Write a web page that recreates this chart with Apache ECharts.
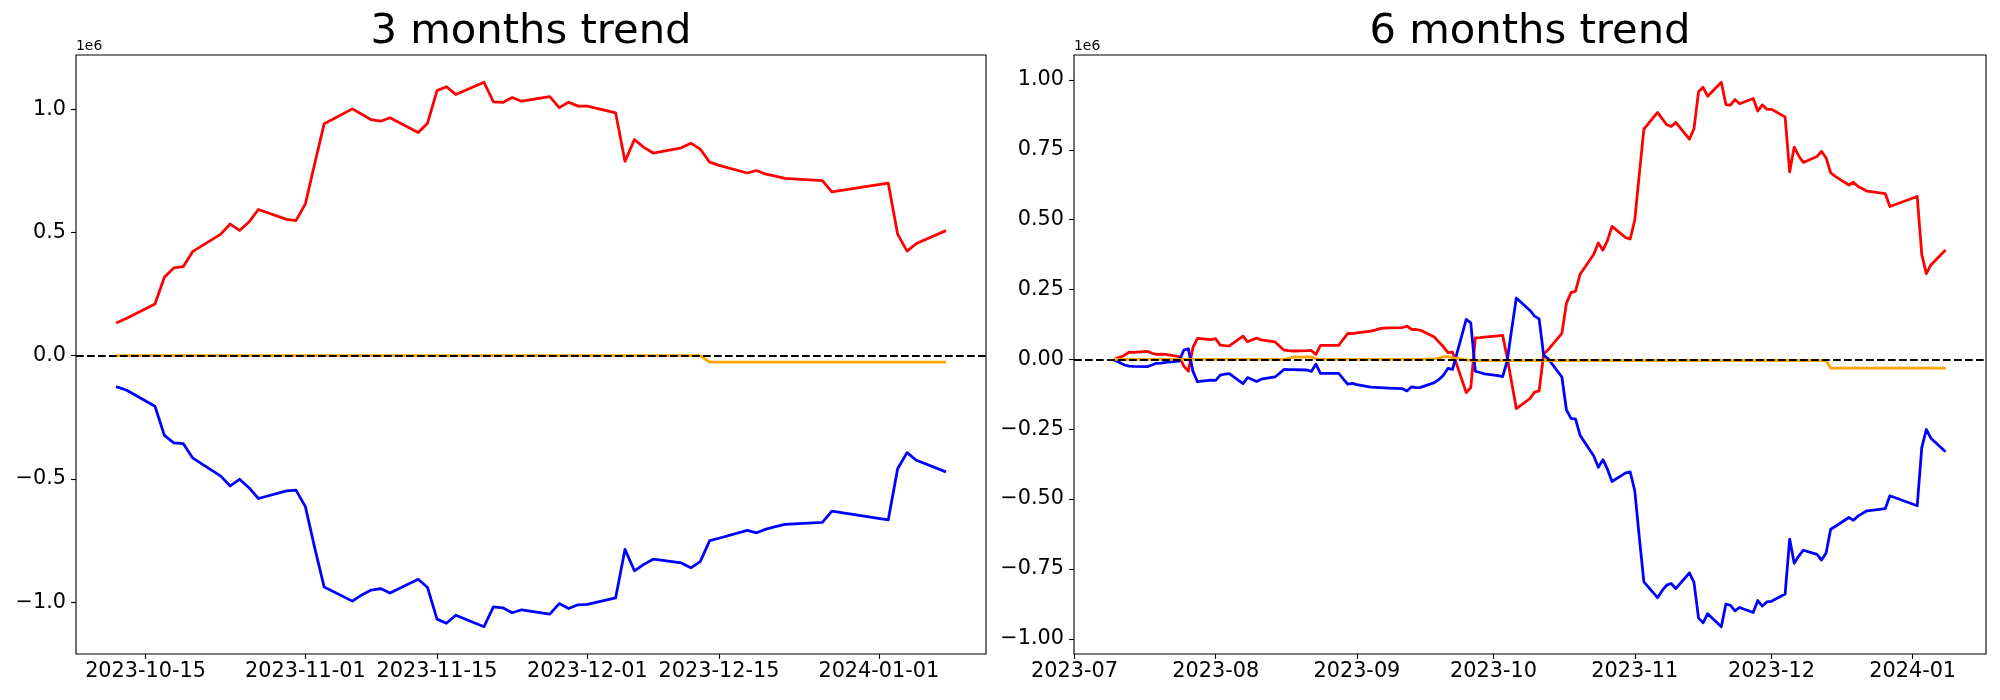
<!DOCTYPE html>
<html><head><meta charset="utf-8">
<script src="https://cdn.jsdelivr.net/npm/echarts@6/dist/echarts.min.js"></script>
<style>html,body{margin:0;padding:0;background:#fff}#c{width:2000px;height:700px}</style>
</head><body><div id="c"></div>
<script>
// ---------- data ----------
const leftDates = [
 '2023-10-12','2023-10-13','2023-10-16','2023-10-17','2023-10-18','2023-10-19','2023-10-20','2023-10-23','2023-10-24','2023-10-25','2023-10-26','2023-10-27','2023-10-30','2023-10-31',
 '2023-11-01','2023-11-02','2023-11-03','2023-11-06','2023-11-07','2023-11-08','2023-11-09','2023-11-10','2023-11-13','2023-11-14','2023-11-15','2023-11-16','2023-11-17','2023-11-20','2023-11-21','2023-11-22','2023-11-23','2023-11-24','2023-11-27','2023-11-28','2023-11-29','2023-11-30',
 '2023-12-01','2023-12-04','2023-12-05','2023-12-06','2023-12-07','2023-12-08','2023-12-11','2023-12-12','2023-12-13','2023-12-14','2023-12-15','2023-12-18','2023-12-19','2023-12-20','2023-12-21','2023-12-22','2023-12-26','2023-12-27',
 '2024-01-02','2024-01-03','2024-01-04','2024-01-05','2024-01-08'];
const leftRed = [
 135000,152000,210000,318000,356000,361000,422000,493000,534000,508000,542000,593000,553000,548000,
 616000,780000,941000,1001000,979000,957000,951000,965000,905000,943000,1075000,1091000,1059000,1109000,1029000,1027000,1047000,1032000,1051000,1006000,1028000,1012000,
 1012000,985000,788000,877000,845000,822000,843000,862000,838000,785000,772000,741000,751000,736000,728000,719000,710000,664000,
 700000,493000,424000,455000,505000];
const leftBlue = [
 -127000,-140000,-205000,-323000,-353000,-356000,-414000,-488000,-528000,-501000,-535000,-579000,-548000,-545000,
 -612000,-780000,-938000,-995000,-970000,-950000,-944000,-962000,-906000,-940000,-1068000,-1085000,-1052000,-1099000,-1018000,-1022000,-1042000,-1030000,-1048000,-1005000,-1025000,-1010000,
 -1008000,-982000,-785000,-872000,-846000,-825000,-840000,-860000,-835000,-750000,-740000,-708000,-718000,-703000,-693000,-684000,-676000,-630000,
 -666000,-458000,-393000,-424000,-469000];
const leftOrange = [
 0,0,0,0,0,0,0,0,0,0,0,0,0,0,
 0,0,0,0,0,0,0,0,0,0,0,0,0,0,0,0,0,0,0,0,0,0,
 0,0,0,0,0,0,0,0,0,-25500,-25500,-25500,-25500,-25500,-25500,-25500,-25500,-25500,
 -25500,-25500,-25500,-25500,-25500];

const rightDates = [
 '2023-07-10','2023-07-11','2023-07-12','2023-07-13','2023-07-14','2023-07-17','2023-07-18','2023-07-19','2023-07-20','2023-07-21','2023-07-24','2023-07-25','2023-07-26','2023-07-27','2023-07-28','2023-07-31',
 '2023-08-01','2023-08-02','2023-08-03','2023-08-04','2023-08-07','2023-08-08','2023-08-09','2023-08-10','2023-08-11','2023-08-14','2023-08-15','2023-08-16','2023-08-17','2023-08-18','2023-08-21','2023-08-22','2023-08-23','2023-08-24','2023-08-25','2023-08-28','2023-08-29','2023-08-30','2023-08-31',
 '2023-09-01','2023-09-04','2023-09-05','2023-09-06','2023-09-07','2023-09-08','2023-09-11','2023-09-12','2023-09-13','2023-09-14','2023-09-15','2023-09-18','2023-09-19','2023-09-20','2023-09-21','2023-09-22','2023-09-25','2023-09-26','2023-09-27','2023-09-28','2023-09-29',
 '2023-10-02','2023-10-03','2023-10-04','2023-10-05','2023-10-06','2023-10-09','2023-10-10','2023-10-11',
 '2023-10-12','2023-10-13','2023-10-16','2023-10-17','2023-10-18','2023-10-19','2023-10-20','2023-10-23','2023-10-24','2023-10-25','2023-10-26','2023-10-27','2023-10-30','2023-10-31',
 '2023-11-01','2023-11-02','2023-11-03','2023-11-06','2023-11-07','2023-11-08','2023-11-09','2023-11-10','2023-11-13','2023-11-14','2023-11-15','2023-11-16','2023-11-17','2023-11-20','2023-11-21','2023-11-22','2023-11-23','2023-11-24','2023-11-27','2023-11-28','2023-11-29','2023-11-30',
 '2023-12-01','2023-12-04','2023-12-05','2023-12-06','2023-12-07','2023-12-08','2023-12-11','2023-12-12','2023-12-13','2023-12-14','2023-12-15','2023-12-18','2023-12-19','2023-12-20','2023-12-21','2023-12-22','2023-12-26','2023-12-27',
 '2024-01-02','2024-01-03','2024-01-04','2024-01-05','2024-01-08'];
const rightRed = [
 2000,8000,15000,26000,25000,29000,22000,18000,19000,18000,10000,-24000,-42000,42000,75000,71000,
 74000,51000,49000,48000,83000,63000,70000,76000,70000,63000,48000,33000,31000,30000,31000,32000,18000,50000,50000,50000,72000,93000,92000,
 95000,101000,105000,110000,112000,113000,114000,119000,107000,107000,104000,80000,62000,45000,24000,26000,-119000,-101000,77000,78000,80000,
 84000,86000,6000,-85000,-176000,-140000,-117000,-113000,
 18000,35000,93000,201000,239000,244000,305000,376000,417000,391000,425000,476000,436000,431000,
 499000,663000,824000,884000,862000,840000,834000,848000,788000,826000,958000,974000,942000,992000,912000,910000,930000,915000,934000,889000,911000,895000,
 895000,868000,671000,760000,728000,705000,726000,745000,721000,668000,655000,624000,634000,619000,611000,602000,593000,547000,
 583000,376000,307000,338000,388000];
const rightBlue = [
 -4000,-12000,-20000,-24000,-25000,-26000,-20000,-14000,-13000,-11000,-6000,33000,38000,-42000,-80000,-74000,
 -75000,-56000,-53000,-51000,-87000,-65000,-72000,-79000,-71000,-63000,-50000,-36000,-37000,-37000,-38000,-43000,-17000,-50000,-50000,-50000,-70000,-89000,-86000,
 -90000,-99000,-100000,-101000,-102000,-103000,-105000,-113000,-98000,-101000,-100000,-83000,-72000,-57000,-32000,-36000,143000,131000,-42000,-47000,-52000,
 -58000,-62000,-5000,110000,220000,175000,155000,145000,
 15000,2000,-63000,-181000,-211000,-214000,-272000,-346000,-386000,-359000,-393000,-437000,-406000,-403000,
 -470000,-638000,-796000,-853000,-828000,-808000,-802000,-820000,-764000,-798000,-926000,-943000,-910000,-957000,-876000,-880000,-900000,-888000,-906000,-863000,-883000,-868000,
 -866000,-840000,-643000,-730000,-704000,-683000,-698000,-718000,-693000,-608000,-598000,-566000,-576000,-561000,-551000,-542000,-534000,-488000,
 -524000,-316000,-251000,-282000,-327000];
const rightOrange = [
 0,0,0,0,0,0,0,0,0,0,0,0,0,0,0,0,
 0,0,0,0,0,0,0,0,0,0,0,0,4000,8000,9000,8000,2000,0,0,0,0,0,0,
 0,0,0,0,0,0,0,0,0,0,0,2000,5000,9000,10000,6000,-2000,-4000,-4000,-4000,-4000,
 -4000,-4000,-4000,-4000,-4000,-4000,-4000,-4000,
 -4000,-4000,-4000,-4000,-4000,-4000,-4000,-4000,-4000,-4000,-4000,-4000,-4000,-4000,
 -4000,-4000,-4000,-4000,-4000,-4000,-4000,-4000,-4000,-4000,-4000,-4000,-4000,-4000,-4000,-4000,-4000,-4000,-4000,-4000,-4000,-4000,
 -4000,-4000,-4000,-4000,-4000,-4000,-4000,-4000,-4000,-31000,-31000,-31000,-31000,-31000,-31000,-31000,-31000,-31000,
 -31000,-31000,-31000,-31000,-31000];

const leftXTicks = ['2023-10-15','2023-11-01','2023-11-15','2023-12-01','2023-12-15','2024-01-01'];
const rightXTicks = ['2023-07-01','2023-08-01','2023-09-01','2023-10-01','2023-11-01','2023-12-01','2024-01-01'];
const leftYTicks = [-1000000,-500000,0,500000,1000000];
const rightYTicks = [-1000000,-750000,-500000,-250000,0,250000,500000,750000,1000000];
const titles = ['3 months trend','6 months trend'];

// ---------- helpers ----------
const FONT = '"DejaVu Sans", sans-serif';
const TICKFS = 20.8;
function ts(s){ const p = s.split('-').map(Number); return Date.UTC(p[0], p[1]-1, p[2]); }
function zip(d, v){ return d.map((s,i)=>[ts(s), v[i]]); }
function xExt(d){ const a=ts(d[0]), b=ts(d[d.length-1]); const m=(b-a)*0.05; return [a-m, b+m]; }
function yExt(arrs){ const all=[].concat(...arrs); const lo=Math.min(...all), hi=Math.max(...all); const m=(hi-lo)*0.05; return [lo-m, hi+m]; }
function pad(n){ return (n<10?'0':'')+n; }
function fmtDay(v){ const d=new Date(Math.round(v)); return d.getUTCFullYear()+'-'+pad(d.getUTCMonth()+1)+'-'+pad(d.getUTCDate()); }
function fmtMonth(v){ const d=new Date(Math.round(v)); return d.getUTCFullYear()+'-'+pad(d.getUTCMonth()+1); }
function fmtY(dec){ return v => (v/1e6).toFixed(dec).replace('-', '\u2212'); }

const grids = [
  {left:76, top:55, width:910, height:599},
  {left:1074, top:55, width:912, height:599}
];

const lx = xExt(leftDates), rx = xExt(rightDates);
const ly = yExt([leftRed, leftBlue, leftOrange]), ry = yExt([rightRed, rightBlue, rightOrange]);

function xAxis(i, ext, ticks, fmt){
  const tv = ticks.map(ts);
  return {type:'value', gridIndex:i, min:ext[0], max:ext[1], scale:true,
    axisLine:{show:false, onZero:false},
    axisTick:{show:true, inside:false, length:4.9, lineStyle:{color:'#000', width:1.1}, customValues:tv},
    axisLabel:{show:true, customValues:tv, formatter:fmt, margin:7, color:'#000', fontFamily:FONT, fontSize:TICKFS, hideOverlap:false},
    splitLine:{show:false}, minorTick:{show:false}};
}
function yAxis(i, ext, ticks, dec){
  return {type:'value', gridIndex:i, min:ext[0], max:ext[1],
    axisLine:{show:false, onZero:false},
    axisTick:{show:true, inside:false, length:4.9, lineStyle:{color:'#000', width:1.1}, customValues:ticks},
    axisLabel:{show:true, customValues:ticks, formatter:fmtY(dec), margin:10, color:'#000', fontFamily:FONT, fontSize:TICKFS, hideOverlap:false},
    splitLine:{show:false}};
}
function line(i, data, color, z){
  return {type:'line', xAxisIndex:i, yAxisIndex:i, data:data, showSymbol:false, symbol:'none', z:z,
    lineStyle:{color:color, width:2.78, cap:'square', join:'round'}, animation:false, silent:true};
}
function zeroLine(i){
  return {type:'line', xAxisIndex:i, yAxisIndex:i, data:[], z:30, silent:true, animation:false,
    markLine:{silent:true, z:30, symbol:['none','none'], label:{show:false}, animation:false,
      lineStyle:{color:'#000', width:2.08, type:[7.7,3.3], cap:'butt'}, emphasis:{disabled:true},
      data:[{yAxis:0}]}};
}

const chart = echarts.init(document.getElementById('c'), null, {renderer:'canvas', width:2000, height:700});
chart.setOption({
  backgroundColor:'#fff',
  animation:false,
  grid: grids.map(g=>Object.assign({show:true, borderColor:'#000', borderWidth:1.1, backgroundColor:'transparent', containLabel:false}, g)),
  xAxis:[xAxis(0, lx, leftXTicks, fmtDay), xAxis(1, rx, rightXTicks, fmtMonth)],
  yAxis:[yAxis(0, ly, leftYTicks, 1), yAxis(1, ry, rightYTicks, 2)],
  series:[
    line(0, zip(leftDates, leftRed), '#ff0000', 3),
    line(0, zip(leftDates, leftBlue), '#0000ff', 4),
    line(0, zip(leftDates, leftOrange), '#ffa500', 5),
    zeroLine(0),
    line(1, zip(rightDates, rightRed), '#ff0000', 3),
    line(1, zip(rightDates, rightBlue), '#0000ff', 4),
    line(1, zip(rightDates, rightOrange), '#ffa500', 5),
    zeroLine(1)
  ],
  graphic:[
    {type:'text', x:76+455, y:32.3, style:{text:titles[0], fill:'#000', font:'41.7px '+FONT, align:'center', verticalAlign:'middle'}},
    {type:'text', x:1074+456, y:32.3, style:{text:titles[1], fill:'#000', font:'41.7px '+FONT, align:'center', verticalAlign:'middle'}},
    {type:'text', x:76, y:46.5, style:{text:'1e6', fill:'#000', font:'13.9px '+FONT, align:'left', verticalAlign:'middle'}},
    {type:'text', x:1074, y:46.5, style:{text:'1e6', fill:'#000', font:'13.9px '+FONT, align:'left', verticalAlign:'middle'}}
  ]
});
</script></body></html>
